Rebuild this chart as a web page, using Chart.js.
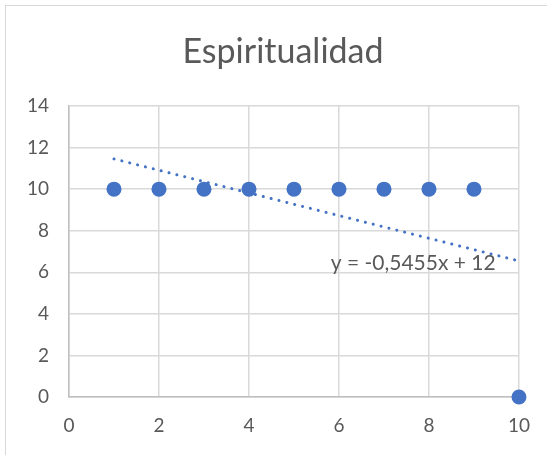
<!DOCTYPE html>
<html>
<head>
<meta charset="utf-8">
<script src="https://cdn.jsdelivr.net/npm/chart.js@4/dist/chart.umd.min.js"></script>
<style>
  html, body { margin: 0; padding: 0; background: #fff; }
  #wrap { width: 547px; height: 455px; position: relative; }
</style>
</head>
<body>
<div id="wrap"><canvas id="chartRef" width="547" height="455"></canvas></div>
<script>
// data
const xValues = [1, 2, 3, 4, 5, 6, 7, 8, 9, 10];
const yValues = [10, 10, 10, 10, 10, 10, 10, 10, 10, 0];
// trendline ends, as Excel draws it (x = 1 .. 10)
const trendX = [1, 10];
const trendY = [11.4545, 6.545];
const trendLabel = "y = -0,5455x + 12";
const chartTitle = "Espiritualidad";

const FONT = "Lato, 'Open Sans', sans-serif";
const BLUE = "#4472C4";
const TEXT = "#595959";

const chartBorder = {
    id: 'chartBorder',
    beforeDraw(chart) {
        const ctx = chart.ctx;
        ctx.save();
        ctx.strokeStyle = '#d9d9d9';
        ctx.lineWidth = 1;
        ctx.strokeRect(5.5, 5.5, 560, 470);
        ctx.restore();
    }
};

// equation label, placed in data units near the end of the trendline
const trendText = {
    id: 'trendText',
    afterDatasetsDraw(chart) {
        const ctx = chart.ctx;
        const xs = chart.scales.x, ys = chart.scales.y;
        ctx.save();
        ctx.font = "21px " + FONT;
        ctx.fillStyle = TEXT;
        ctx.textAlign = 'center';
        ctx.textBaseline = 'middle';
        ctx.fillText(trendLabel, xs.getPixelForValue(7.65), ys.getPixelForValue(6.45));
        ctx.restore();
    }
};

const ctx = document.getElementById('chartRef').getContext('2d');
new Chart(ctx, {
    type: 'scatter',
    data: {
        datasets: [
            {
                label: 'trend',
                data: trendX.map((x, i) => ({ x: x, y: trendY[i] })),
                showLine: true,
                borderColor: BLUE,
                borderWidth: 3,
                borderDash: [0.1, 8],
                borderCapStyle: 'round',
                pointRadius: 0,
                order: 0
            },
            {
                label: 'Espiritualidad',
                data: xValues.map((x, i) => ({ x: x, y: yValues[i] })),
                backgroundColor: BLUE,
                borderColor: BLUE,
                pointRadius: 7.5,
                pointBorderWidth: 0,
                clip: false,
                order: 1
            }
        ]
    },
    options: {
        responsive: false,
        animation: false,
        layout: { padding: { left: 19, right: 0, top: 0, bottom: 18 } },
        plugins: {
            legend: { display: false },
            tooltip: { enabled: false },
            title: {
                display: true,
                text: chartTitle,
                color: TEXT,
                font: { family: FONT, size: 34, weight: 'normal', lineHeight: 1.2 },
                padding: { top: 31.6, bottom: 33.6 }
            }
        },
        scales: {
            x: {
                type: 'linear',
                min: 0, max: 10,
                ticks: { stepSize: 2, color: TEXT, font: { family: FONT, size: 19 }, padding: 17 },
                grid: { color: '#d9d9d9', lineWidth: 1.5, drawTicks: false },
                border: { color: '#bfbfbf', width: 1.5 },
                afterFit(scale) { scale.height = 40; }
            },
            y: {
                min: 0, max: 14,
                ticks: { stepSize: 2, color: TEXT, font: { family: FONT, size: 19 }, padding: 20 },
                grid: { color: '#d9d9d9', lineWidth: 1.5, drawTicks: false },
                border: { color: '#bfbfbf', width: 1.5 },
                afterFit(scale) { scale.width = 50; }
            }
        }
    },
    plugins: [chartBorder, trendText]
});
</script>
</body>
</html>
